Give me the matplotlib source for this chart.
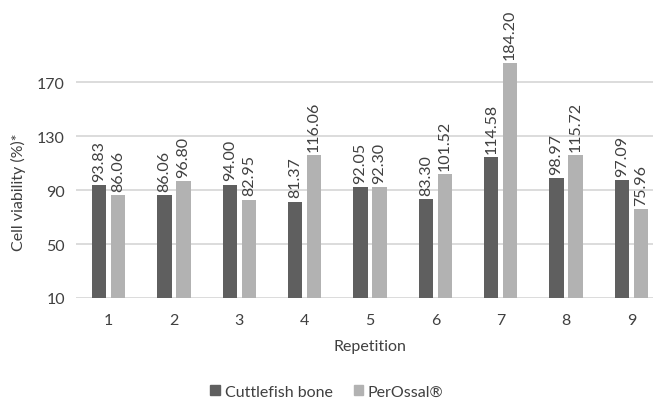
import matplotlib
matplotlib.use('Agg')
import matplotlib.pyplot as plt
from matplotlib.patches import Patch
import numpy as np

plt.rcParams['font.family'] = ['Lato', 'DejaVu Sans']

# data
repetitions = ['1', '2', '3', '4', '5', '6', '7', '8', '9']
cuttlefish = [93.83, 86.06, 94.00, 81.37, 92.05, 83.30, 114.58, 98.97, 97.09]
perossal = [86.06, 96.80, 82.95, 116.06, 92.30, 101.52, 184.20, 115.72, 75.96]
y_ticks = [10, 50, 90, 130, 170]

dark = '#5f5f5f'
light = '#b2b2b2'
txt = '#404040'
grid = '#d9d9d9'
fs = 11.5

fig = plt.figure(figsize=(6.53, 4.02), dpi=100)
# plot area runs past the right edge (cropped original)
ax = fig.add_axes([76 / 653, 103 / 402, 588 / 653, 299 / 402])

x = np.arange(1, len(repetitions) + 1)
w = 0.22
off = 0.145
ax.bar(x - off, [v - 10 for v in cuttlefish], w, bottom=10, color=dark, zorder=3)
ax.bar(x + off, [v - 10 for v in perossal], w, bottom=10, color=light, zorder=3)

for xs, vals in ((x - off, cuttlefish), (x + off, perossal)):
    for xi, v in zip(xs, vals):
        ax.annotate(f'{v:.2f}', (xi, v), xytext=(0, 3), textcoords='offset points',
                    rotation=90, ha='center', va='bottom', fontsize=fs, color=txt,
                    annotation_clip=False)

ax.set_xlim(0.5, 9.5)
ax.set_ylim(10, 231.5)
ax.set_yticks(y_ticks)
ax.set_xticks(x)
ax.set_xticklabels(repetitions)
ax.tick_params(length=0, labelsize=fs, colors=txt)
ax.tick_params(axis='x', pad=11)
ax.tick_params(axis='y', pad=8)
for s in ax.spines.values():
    s.set_visible(False)
ax.yaxis.grid(True, color=grid, linewidth=1.3, zorder=0)
ax.set_axisbelow(True)

fig.text(370 / 653, 1 - 347 / 402, 'Repetition', ha='center', va='center', fontsize=fs, color=txt)
fig.text(18 / 653, 1 - 192 / 402, 'Cell viability (%)*', ha='center', va='center',
         rotation=90, fontsize=fs, color=txt)

handles = [Patch(color=dark, label='Cuttlefish bone'), Patch(color=light, label='PerOssal®')]
fig.legend(handles=handles, loc='center', bbox_to_anchor=(327 / 653, 1 - 393 / 402),
           ncol=2, frameon=False, fontsize=fs, handlelength=0.6, handleheight=0.6,
           handletextpad=0.3, columnspacing=1.3, labelcolor=txt)

plt.savefig('out.png', dpi=100)
